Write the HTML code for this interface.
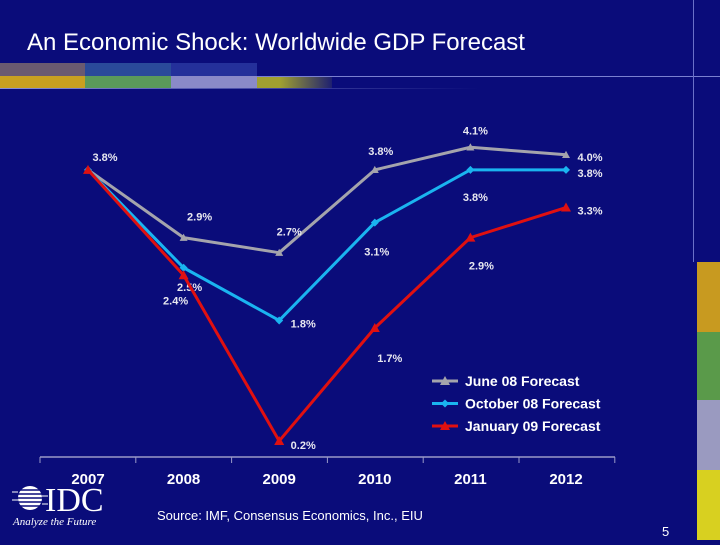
<!DOCTYPE html>
<html><head><meta charset="utf-8"><style>
html,body{margin:0;padding:0;}
body{width:720px;height:540px;background:#0a0c7a;position:relative;overflow:hidden;font-family:"Liberation Sans",sans-serif;}
</style></head><body>
<svg id="c" width="720" height="540" xmlns="http://www.w3.org/2000/svg">
<defs>
<linearGradient id="fade" x1="0" x2="1" y1="0" y2="0"><stop offset="0" stop-color="#0a0c7a" stop-opacity="0"/><stop offset="1" stop-color="#0a0c7a" stop-opacity="1"/></linearGradient>
<linearGradient id="hl" x1="0" x2="1"><stop offset="0" stop-color="#8a90d8"/><stop offset="0.7" stop-color="#8a90d8" stop-opacity="0.3"/><stop offset="1" stop-color="#8a90d8" stop-opacity="0"/></linearGradient>
</defs>
<g>
<rect x="0" y="63" width="85" height="13" fill="#6a5a70"/>
<rect x="85" y="63" width="86" height="13" fill="#2a4a9a"/>
<rect x="171" y="63" width="86" height="13" fill="#24309a"/>
<rect x="0" y="76" width="85" height="12" fill="#c8a020"/>
<rect x="85" y="76" width="86" height="12" fill="#5a9a5a"/>
<rect x="171" y="76" width="86" height="12" fill="#8a8ac8"/>
<rect x="257" y="76" width="75" height="12" fill="#a0a030"/>
<rect x="280" y="63" width="60" height="26" fill="url(#fade)"/>
<rect x="257" y="76" width="463" height="1" fill="#7a80d0"/>
<rect x="0" y="88" width="480" height="1" fill="url(#hl)"/>
<rect x="693" y="0" width="1" height="262" fill="#6a70c8"/>
</g>
<g>
<rect x="697" y="262" width="23" height="70" fill="#c89a20"/>
<rect x="697" y="332" width="23" height="68" fill="#5a9a4a"/>
<rect x="697" y="400" width="23" height="70" fill="#9a9ac0"/>
<rect x="697" y="470" width="23" height="70" fill="#d8d020"/>
</g>
<text x="27" y="50" fill="#fff" font-size="24">An Economic Shock: Worldwide GDP Forecast</text>
<g id="chart"></g>
<g>
<circle cx="30" cy="498" r="12" fill="#fff"/>
<g stroke="#0a0c7a" stroke-width="1.5">
<line x1="14" y1="490" x2="46" y2="490"/><line x1="14" y1="494" x2="46" y2="494"/><line x1="14" y1="498" x2="46" y2="498"/><line x1="14" y1="502" x2="46" y2="502"/><line x1="14" y1="506" x2="46" y2="506"/>
</g>
<g stroke="#fff" stroke-width="1"><line x1="12" y1="492" x2="18" y2="492"/><line x1="12" y1="500" x2="18" y2="500"/><line x1="42" y1="496" x2="48" y2="496"/><line x1="42" y1="504" x2="48" y2="504"/></g>
<text x="45" y="511" fill="#fff" font-family="Liberation Serif,serif" font-size="34">IDC</text>
<text x="13" y="525" fill="#fff" font-family="Liberation Serif,serif" font-style="italic" font-size="11">Analyze the Future</text>
</g>
<text x="157" y="520" fill="#fff" font-size="13">Source: IMF, Consensus Economics, Inc., EIU</text>
<text x="662" y="536" fill="#fff" font-size="13">5</text>
</svg>
<script>
const categories=["2007","2008","2009","2010","2011","2012"];
const june=[3.8,2.9,2.7,3.8,4.1,4.0];
const october=[3.8,2.5,1.8,3.1,3.8,3.8];
const january=[3.8,2.4,0.2,1.7,2.9,3.3];
const seriesNames=["June 08 Forecast","October 08 Forecast","January 09 Forecast"];
const NS="http://www.w3.org/2000/svg";
const g=document.getElementById('chart');
function xs(i){return 88+i*95.6;}
function ys(v){return 456-75.3*v;}
function mk(t,a,p){const e=document.createElementNS(NS,t);for(const k in a)e.setAttribute(k,a[k]);(p||g).appendChild(e);return e;}
// axis
const ax=mk('line',{x1:40,y1:457,x2:615,y2:457,stroke:'#9a9ac8','stroke-width':1.5});


for(let i=0;i<=categories.length;i++){const tx=40+i*95.8;const t=mk('line',{x1:tx,y1:457,x2:tx,y2:463,stroke:'#9a9ac8','stroke-width':1});

}
categories.forEach((c,i)=>{const t=mk('text',{x:xs(i),y:484,fill:'#fff','font-size':15,'font-weight':'bold','text-anchor':'middle'});t.textContent=c;

});
const colors=['#a4a4ac','#1ab4f0','#e01010'];
const data=[june,october,january];
// label offsets (dx,dy) per series/point
const offs=[
[[17,-13],[16,-21],[10,-21],[6,-19],[5,-17],[24,2]],
[null,[6,19],[24,3],[2,29],[5,27],[24,3]],
[null,[-8,25],[24,4],[15,30],[11,28],[24,3]]];
data.forEach((s,si)=>{
 const pts=s.map((v,i)=>xs(i)+','+ys(v)).join(' ');
 const pl=mk('polyline',{points:pts,fill:'none',stroke:colors[si],'stroke-width':3,'stroke-linejoin':'round'});
 
 
 s.forEach((v,i)=>{
  const x=xs(i),y=ys(v);let m;
  if(si==1)m=mk('polygon',{points:`${x},${y-4} ${x+4},${y} ${x},${y+4} ${x-4},${y}`,fill:colors[si]});
  else{const r=si==2?5:4;m=mk('polygon',{points:`${x},${y-r} ${x+r},${y+r*0.8} ${x-r},${y+r*0.8}`,fill:colors[si]});}
  
  
  const o=offs[si][i];if(!o)return;
  const t=mk('text',{x:x+o[0],y:y+o[1]+4,fill:'#e8e8f0','font-size':11,'font-weight':'bold','text-anchor':'middle'});
  t.textContent=v.toFixed(1)+'%';
  
  
 });
});
seriesNames.forEach((n,i)=>{
 const y=381+i*22.5;
 const lg=mk('g',{});
 
 
 mk('line',{x1:432,y1:y,x2:458,y2:y,stroke:colors[i],'stroke-width':3},lg);
 if(i==1)mk('polygon',{points:`445,${y-4} 449,${y} 445,${y+4} 441,${y}`,fill:colors[i]},lg);
 else mk('polygon',{points:`445,${y-5} 450,${y+4} 440,${y+4}`,fill:colors[i]},lg);
 const t=mk('text',{x:465,y:y+5,fill:'#fff','font-size':14,'font-weight':'bold'},lg);t.textContent=n;
});
</script>
</body></html>
